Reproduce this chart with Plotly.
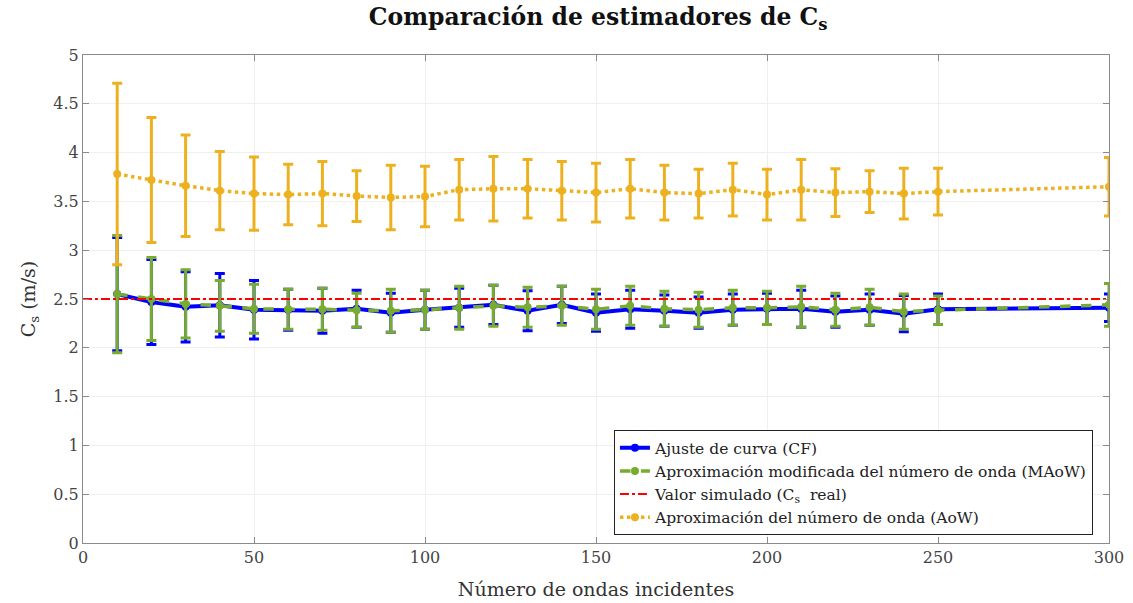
import plotly.graph_objects as go

# Number of incident waves
n_waves = [10, 20, 30, 40, 50, 60, 70, 80, 90, 100, 110, 120, 130, 140, 150,
           160, 170, 180, 190, 200, 210, 220, 230, 240, 250, 300]

# Curve fit (CF) estimates and their standard deviation
cf_mean = [2.55, 2.47, 2.42, 2.435, 2.39, 2.39, 2.38, 2.40, 2.36, 2.39, 2.41, 2.44, 2.38,
           2.44, 2.36, 2.395, 2.38, 2.36, 2.39, 2.40, 2.40, 2.37, 2.39, 2.35, 2.395, 2.41]
cf_std = [0.58, 0.435, 0.36, 0.325, 0.30, 0.21, 0.23, 0.19, 0.20, 0.20, 0.20, 0.20, 0.205,
          0.19, 0.19, 0.195, 0.16, 0.16, 0.16, 0.16, 0.19, 0.16, 0.16, 0.185, 0.155, 0.14]

# Modified wavenumber approximation (MAoW)
maow_mean = [2.55, 2.50, 2.45, 2.43, 2.40, 2.395, 2.395, 2.385, 2.38, 2.39, 2.41, 2.43, 2.415,
             2.43, 2.395, 2.43, 2.40, 2.39, 2.41, 2.41, 2.42, 2.39, 2.415, 2.37, 2.385, 2.44]
maow_std = [0.60, 0.425, 0.35, 0.26, 0.25, 0.205, 0.215, 0.175, 0.22, 0.20, 0.22, 0.21, 0.205,
            0.20, 0.205, 0.20, 0.18, 0.18, 0.18, 0.17, 0.21, 0.17, 0.185, 0.18, 0.145, 0.22]

# Wavenumber approximation (AoW)
aow_mean = [3.78, 3.72, 3.66, 3.61, 3.58, 3.57, 3.58, 3.555, 3.54, 3.55, 3.62, 3.63, 3.63,
            3.61, 3.59, 3.63, 3.59, 3.58, 3.62, 3.57, 3.62, 3.59, 3.60, 3.58, 3.60, 3.65]
aow_std = [0.93, 0.64, 0.52, 0.40, 0.375, 0.31, 0.33, 0.26, 0.33, 0.31, 0.31, 0.33, 0.30,
           0.30, 0.30, 0.30, 0.28, 0.25, 0.27, 0.26, 0.31, 0.245, 0.215, 0.26, 0.24, 0.30]

# Simulated (true) shear-wave velocity
cs_real = 2.5
x_limits = [0, 300]

FONT = "DejaVu Serif"
BLUE = "#0000FF"
GREEN = "#77AC30"
RED = "#FF0000"
ORANGE = "#EDB120"

fig = go.Figure()


def add_series(name, y, err, color, dash, width):
    fig.add_trace(go.Scatter(
        x=n_waves, y=y, name=name, mode="lines+markers",
        line=dict(color=color, width=width, dash=dash),
        marker=dict(color=color, size=8, symbol="circle"),
        error_y=dict(type="data", array=err, visible=True, color=color,
                     thickness=3, width=5),
    ))


add_series("Ajuste de curva (CF)", cf_mean, cf_std, BLUE, "solid", 4)
add_series("Aproximación modificada del número de onda (MAoW)", maow_mean, maow_std,
           GREEN, "dash", 3.5)
fig.add_trace(go.Scatter(
    x=x_limits, y=[cs_real, cs_real], name="Valor simulado (C<sub>s</sub>  real)",
    mode="lines", line=dict(color=RED, width=2, dash="dashdot"),
))
add_series("Aproximación del número de onda (AoW)", aow_mean, aow_std, ORANGE, "dot", 3.5)

axis_common = dict(
    showline=True, linecolor="#8a8a8a", linewidth=1, mirror="allticks",
    ticks="inside", ticklen=6, tickcolor="#8a8a8a",
    showgrid=True, gridcolor="#efefef", gridwidth=1, zeroline=False,
    tickfont=dict(family=FONT, size=16, color="#444444"),
    automargin=False,
)

fig.update_layout(
    width=1133, height=603,
    margin=dict(l=83, r=24, t=55, b=60),
    paper_bgcolor="white", plot_bgcolor="white",
    font=dict(family=FONT, color="#222222"),
    title=dict(text="<b>Comparación de estimadores de C<sub>s</sub></b>",
               x=0.528, xanchor="center", y=0.985, yanchor="top",
               font=dict(family=FONT, size=23.5, color="#111111")),
    xaxis=dict(range=x_limits, dtick=50,
               title=dict(text="Número de ondas incidentes", standoff=16,
                          font=dict(family=FONT, size=19, color="#333333")),
               **axis_common),
    yaxis=dict(range=[0, 5], dtick=0.5,
               title=dict(text="C<sub>s</sub> (m/s)", standoff=12,
                          font=dict(family=FONT, size=19, color="#333333")),
               **axis_common),
    legend=dict(x=0.5175, y=0.016, xanchor="left", yanchor="bottom",
                bgcolor="white", bordercolor="#222222", borderwidth=1,
                font=dict(family=FONT, size=15.5, color="#222222"),
                tracegroupgap=0, itemwidth=30),
    showlegend=True,
)

fig.write_html("out.html")
